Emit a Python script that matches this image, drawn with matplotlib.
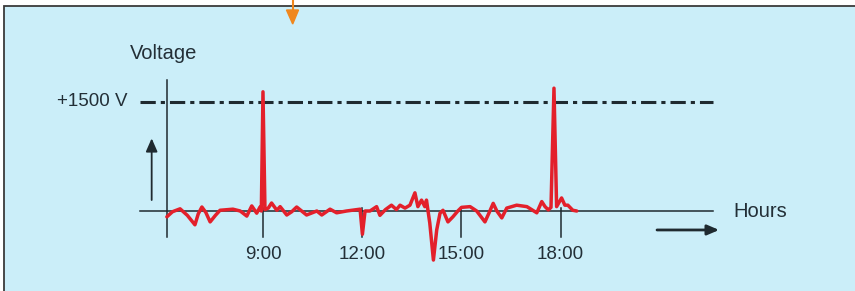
import matplotlib
matplotlib.use("Agg")
import matplotlib.pyplot as plt
from matplotlib.patches import Rectangle

plt.rcParams['font.family'] = ['Liberation Sans', 'DejaVu Sans']

horas = [6.08, 6.25, 6.48, 6.70, 6.93, 7.03, 7.14, 7.26, 7.39, 7.55, 7.69, 8.08,
         8.30, 8.50, 8.65, 8.80, 8.90, 8.94, 8.99, 9.05, 9.15, 9.25, 9.41,
         9.51, 9.71, 9.86, 10.01, 10.16, 10.31, 10.62, 10.77, 11.02, 11.22,
         11.52, 11.93, 12.00, 12.08, 12.23, 12.43, 12.53, 12.70, 12.88, 13.03,
         13.14, 13.29, 13.44, 13.59, 13.68, 13.79, 13.89, 13.94, 14.04, 14.15,
         14.25, 14.35, 14.44, 14.59, 14.74, 14.89, 15.00, 15.26, 15.46, 15.71,
         15.84, 15.96, 16.07, 16.22, 16.37, 16.67, 16.98, 17.28, 17.43, 17.53,
         17.63, 17.71, 17.80, 17.88, 18.03, 18.13, 18.22, 18.37, 18.49]
voltaje = [-80, -10, 30, -60, -190, -40, 55, -20, -150, -60, 10, 25,
           0, -70, 70, -30, 55, 0, 1640, 20, 40, 110, 10,
           60, -55, -10, 55, 0, -55, 0, -55, 25, -25,
           0, 25, -320, 0, 0, 60, -60, 20, 80, 20,
           80, 40, 80, 250, 60, 150, 60, 150, -165, -675,
           -260, -30, 10, -150, -80, 0, 50, 60, 0, -150,
           -20, 105, 0, -95, 40, 80, 60, -25, 130, 60,
           15, 50, 1690, 60, 180, 80, 80, 10, 0]

ticks_horas = [9, 12, 15, 18]
ticks_texto = ["9:00", "12:00", "15:00", "18:00"]
limite = 1500

fig = plt.figure(figsize=(8.55, 2.91), dpi=100)
fig.patch.set_facecolor("white")

# panel azul con borde
fig.patches.append(Rectangle((4 / 855, -0.1), 1.1, 1.1 - 6 / 291,
                             transform=fig.transFigure, facecolor="#cbeef9",
                             edgecolor="#3a3a3a", linewidth=1.3, zorder=-5))

ax = fig.add_axes([0, 0, 1, 1])
ax.set_xlim(1.028, 26.914)
ax.set_ylim(-1100.8, 2903.4)
ax.axis("off")

oscuro = "#1f2a30"
texto = "#232f37"

# ejes
ax.plot([6.08, 6.08], [-358, 1803], color=oscuro, lw=1.1)
ax.plot([5.267, 22.61], [0, 0], color=oscuro, lw=1.1)
for h, t in zip(ticks_horas, ticks_texto):
    ax.plot([h, h], [41, -358], color=oscuro, lw=1.1)
    ax.text(h, -605, t, ha="center", va="center", fontsize=13.5, color=texto)

# linea de +1500 V
plt.rcParams['lines.scale_dashes'] = False
ax.plot([5.267, 22.61], [limite, limite], color=oscuro, lw=2.2,
        linestyle=(0, (11, 3.6, 3, 3.6)))
ax.text(4.90, limite, "+1500 V", ha="right", va="center", fontsize=13.5, color=texto)
ax.text(4.96, 2174, "Voltage", ha="left", va="center", fontsize=14.5, color=texto)
ax.text(23.22, 0, "Hours", ha="left", va="center", fontsize=14.5, color=texto)

# flechas
ax.annotate("", xy=(5.62, 1000), xytext=(5.62, 151),
            arrowprops=dict(arrowstyle="-|>,head_length=0.8,head_width=0.35",
                            color=oscuro, lw=1.3, shrinkA=0, shrinkB=0))
ax.annotate("", xy=(22.80, -261), xytext=(20.92, -261),
            arrowprops=dict(arrowstyle="-|>,head_length=0.7,head_width=0.3",
                            color=oscuro, lw=2.0, shrinkA=0, shrinkB=0))
fig.patches.append(plt.Polygon([[286.5 / 855, 1 - 10 / 291], [298.5 / 855, 1 - 10 / 291],
                                [292.7 / 855, 1 - 24 / 291]], closed=True,
                               transform=fig.transFigure, color="#f0871e", zorder=5))
fig.lines.append(plt.Line2D([292.7 / 855, 292.7 / 855], [1, 1 - 12 / 291],
                            transform=fig.transFigure, color="#f0871e", lw=1.5))

# senal de voltaje
ax.plot(horas, voltaje, color="#e3202b", lw=2.5, solid_joinstyle="round",
        solid_capstyle="round", zorder=4)

fig.savefig("out.png", dpi=100, facecolor=fig.get_facecolor())
